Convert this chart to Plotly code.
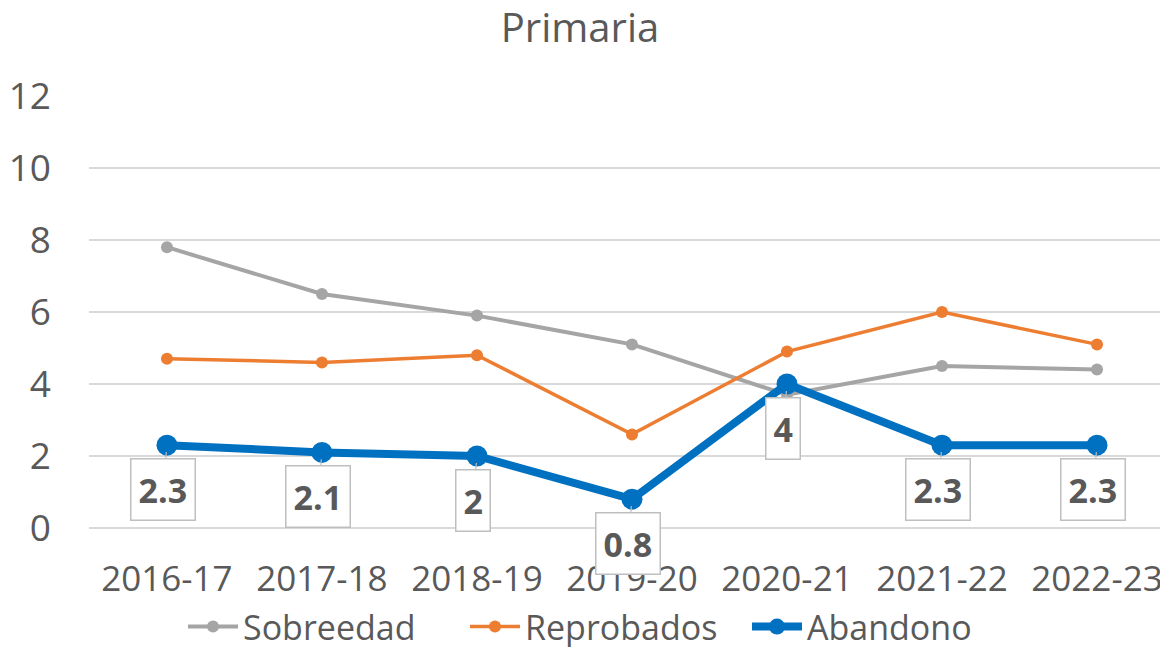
import plotly.graph_objects as go

categories = ["2016-17", "2017-18", "2018-19", "2019-20", "2020-21", "2021-22", "2022-23"]
sobreedad = [7.8, 6.5, 5.9, 5.1, 3.7, 4.5, 4.4]
reprobados = [4.7, 4.6, 4.8, 2.6, 4.9, 6.0, 5.1]
abandono = [2.3, 2.1, 2.0, 0.8, 4.0, 2.3, 2.3]
abandono_labels = ["2.3", "2.1", "2", "0.8", "4", "2.3", "2.3"]
y_ticks = [0, 2, 4, 6, 8, 10, 12]

FONT = "Open Sans"
TXT = "#595959"
W, H = 1160, 639  # page body has an 8px margin

fig = go.Figure()
fig.add_trace(go.Scatter(x=categories, y=sobreedad, name="Sobreedad", mode="lines+markers",
                         line=dict(color="#a5a5a5", width=4), marker=dict(size=12, color="#a5a5a5")))
fig.add_trace(go.Scatter(x=categories, y=reprobados, name="Reprobados", mode="lines+markers",
                         line=dict(color="#ed7d31", width=3.5), marker=dict(size=12, color="#ed7d31")))
fig.add_trace(go.Scatter(x=categories, y=abandono, name="Abandono", mode="lines+markers",
                         line=dict(color="#0070c0", width=8), marker=dict(size=21, color="#0070c0")))

for c, v, t in zip(categories, abandono, abandono_labels):
    fig.add_annotation(x=c, y=v, text="<b>%s</b>" % t, showarrow=True, arrowhead=0,
                       arrowcolor="#bfbfbf", arrowwidth=1.2, ax=-4, ay=44, standoff=7,
                       bordercolor="#bfbfbf", borderwidth=1.5, borderpad=7, bgcolor="white",
                       font=dict(family=FONT, size=34, color=TXT))

fig.update_layout(
    width=W, height=H,
    margin=dict(l=81, r=0, t=88, b=119, autoexpand=False),
    paper_bgcolor="white", plot_bgcolor="white",
    font=dict(family=FONT, color=TXT),
    title=dict(text="Primaria", x=572 / W, xref="container", xanchor="center",
               y=1 - 20 / H, yref="container", yanchor="middle",
               font=dict(family=FONT, size=40, color=TXT)),
    showlegend=True,
    legend=dict(orientation="h", x=598 / W, xref="container", xanchor="center",
                y=1 - 590 / H, yref="container", yanchor="top",
                font=dict(family=FONT, size=34, color=TXT), itemwidth=50,
                entrywidth=217, tracegroupgap=0, bgcolor="rgba(0,0,0,0)"),
)
fig.update_xaxes(type="category", range=[-0.503, 6.458], showgrid=False, showline=False,
                 zeroline=False, ticks="", tickfont=dict(family=FONT, size=35, color=TXT),
                 ticklabelstandoff=27, automargin=False)
fig.update_yaxes(range=[0, 12], tickvals=y_ticks, showgrid=True, gridcolor="#d9d9d9", gridwidth=1.5,
                 zeroline=True, zerolinecolor="#d9d9d9", zerolinewidth=1.5, showline=False,
                 ticks="", tickfont=dict(family=FONT, size=37, color=TXT), ticklabelstandoff=37,
                 automargin=False)

fig.write_html("out.html")
